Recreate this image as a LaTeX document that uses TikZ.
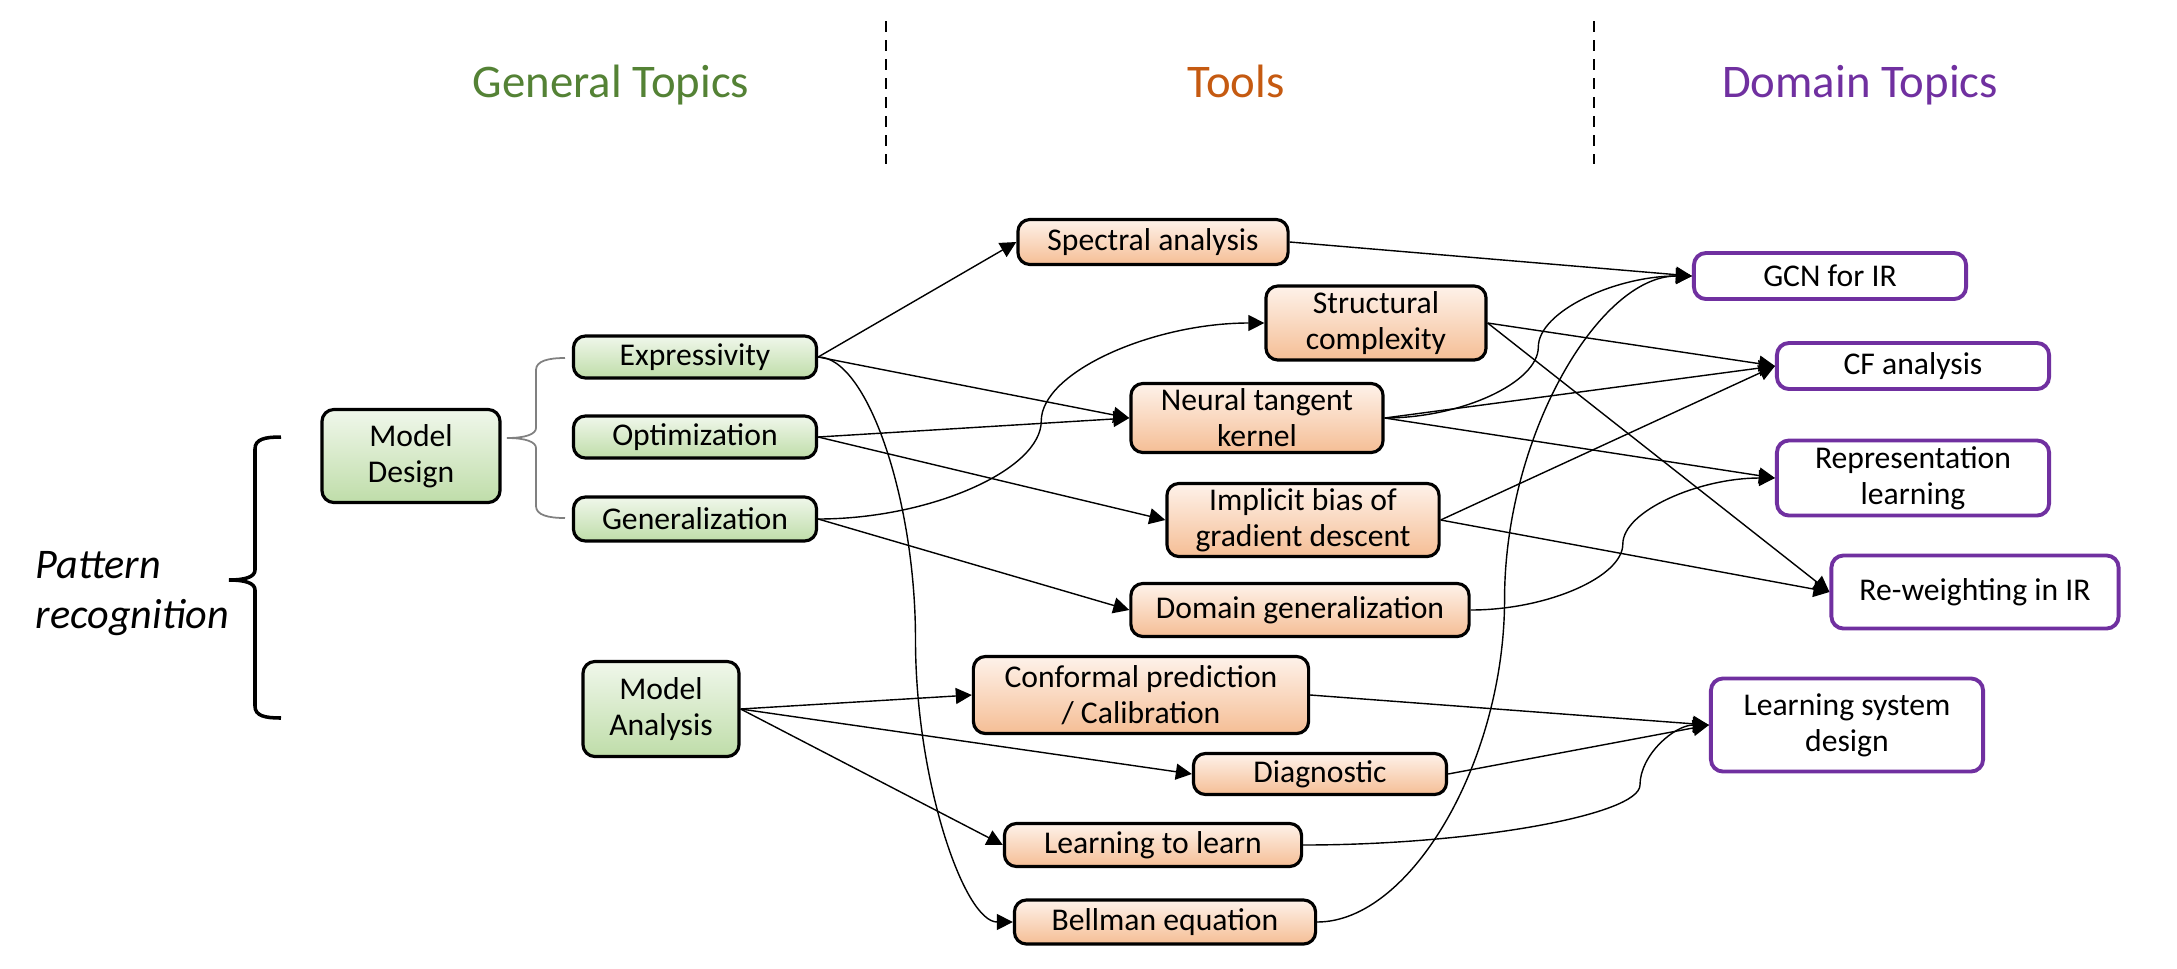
\documentclass[tikz,border=0pt]{standalone}
\usepackage{fontspec}
\setmainfont{Carlito}
\usetikzlibrary{arrows.meta,calc}

\definecolor{hdgreen}{HTML}{548235}
\definecolor{hdorange}{HTML}{C55A11}
\definecolor{hdpurple}{HTML}{7030A0}
\definecolor{grtop}{HTML}{F0F7EB}
\definecolor{grbot}{HTML}{BFDDA9}
\definecolor{ortop}{HTML}{FEF2EA}
\definecolor{orbot}{HTML}{F5BE95}
\newcommand{\boxfont}{\fontsize{9}{10.2}\selectfont}
\newcommand{\headfont}{\fontsize{13.3}{16}\selectfont}

% curved connector: out and in horizontal, vertical at fraction #1
\tikzset{ppt/.style={to path={
    let \p1=(\tikztostart), \p2=(\tikztotarget),
        \n1={\x1+#1*(\x2-\x1)}, \n2={(\y1+\y2)/2},
        \n3={(\x1+\n1)/2}, \n4={\y1+(\y2-\y1)/4},
        \n5={\y1+3*(\y2-\y1)/4}, \n6={(\n1+\x2)/2}
    in .. controls (\n3,\y1) and (\n1,\n4) .. (\n1,\n2)
       .. controls (\n1,\n5) and (\n6,\y2) .. (\tikztotarget) \tikztonodes}},
  ppt/.default=0.5}

\begin{document}
\begin{tikzpicture}[x=0.01cm,y=-0.01cm]
		\tikzstyle{every node}+=[inner sep=0pt]
		\tikzstyle{gbox}=[draw=black, line width=0.9pt, rounded corners=0.12cm, top color=grtop, bottom color=grbot, align=center, font=\boxfont]
		\tikzstyle{obox}=[gbox, top color=ortop, bottom color=orbot]
		\tikzstyle{pbox}=[draw=hdpurple, line width=1.1pt, rounded corners=0.12cm, fill=white, align=center, font=\boxfont]
		\tikzstyle{link}=[line width=0.4pt, -{Triangle[length=0.16cm,width=0.16cm]}]
		\useasboundingbox (0,0) rectangle (2177,969);
		% headers
		\node [font=\headfont, text=hdgreen, anchor=base] (hdgen) at (611,97) {General Topics};
		\node [font=\headfont, text=hdorange, anchor=base] (hdtool) at (1236,97) {Tools};
		\node [font=\headfont, text=hdpurple, anchor=base] (hddom) at (1860,97) {Domain Topics};
		\draw [line width=0.8pt, dash pattern=on 0.11cm off 0.08cm] (886,21) -- (886,164);
		\draw [line width=0.8pt, dash pattern=on 0.11cm off 0.08cm] (1594,21) -- (1594,164);
		% left
		\node [font=\fontsize{12}{14.2}\selectfont\itshape, align=left, anchor=west] (patt) at (35,594) {Pattern\\recognition};
		\draw [line width=1pt] (281,437) .. controls (265,437) and (255,439) .. (255,449) -- (255,570)
			.. controls (255,577) and (245,580) .. (229,580) .. controls (245,580) and (255,583) .. (255,590)
			-- (255,706) .. controls (255,716) and (265,718) .. (281,718);
		% general topics
		\node [gbox, minimum width=1.78cm, minimum height=0.93cm] (mdes) at (411,456) {Model\\Design};
		\node [gbox, minimum width=2.43cm, minimum height=0.42cm] (expr) at (695,357) {Expressivity};
		\node [gbox, minimum width=2.43cm, minimum height=0.42cm] (opt) at (695,437) {Optimization};
		\node [gbox, minimum width=2.43cm, minimum height=0.44cm] (gen) at (695,519) {Generalization};
		\node [gbox, minimum width=1.56cm, minimum height=0.95cm] (anal) at (661,709) {Model\\Analysis};
		\draw [line width=0.5pt, gray] (565,358) .. controls (548,358) and (536,361) .. (536,370) -- (536,428)
			.. controls (536,434) and (526,438) .. (507,438) .. controls (526,438) and (536,442) .. (536,448)
			-- (536,506) .. controls (536,515) and (548,518) .. (565,518);
		% tools
		\node [obox, minimum width=2.70cm, minimum height=0.45cm] (spec) at (1153,242) {Spectral analysis};
		\node [obox, minimum width=2.20cm, minimum height=0.74cm] (struc) at (1376,323) {Structural\\complexity};
		\node [obox, minimum width=2.52cm, minimum height=0.69cm] (ntk) at (1257,418) {Neural tangent\\kernel};
		\node [obox, minimum width=2.72cm, minimum height=0.73cm] (impl) at (1303,520) {Implicit bias of\\gradient descent};
		\node [obox, minimum width=3.38cm, minimum height=0.53cm] (domg) at (1300,610) {Domain generalization};
		\node [obox, minimum width=3.35cm, minimum height=0.77cm] (conf) at (1141,695) {Conformal prediction\\/ Calibration};
		\node [obox, minimum width=2.53cm, minimum height=0.41cm] (diag) at (1320,774) {Diagnostic};
		\node [obox, minimum width=2.97cm, minimum height=0.43cm] (ltl) at (1153,845) {Learning to learn};
		\node [obox, minimum width=3.01cm, minimum height=0.44cm] (bell) at (1165,922) {Bellman equation};
		% domain topics
		\node [pbox, minimum width=2.72cm, minimum height=0.46cm] (gcn) at (1830,276) {GCN for IR};
		\node [pbox, minimum width=2.72cm, minimum height=0.46cm] (cf) at (1913,366) {CF analysis};
		\node [pbox, minimum width=2.72cm, minimum height=0.75cm] (rep) at (1913,478) {Representation\\learning};
		\node [pbox, minimum width=2.87cm, minimum height=0.73cm] (rew) at (1975,592) {Re-weighting in IR};
		\node [pbox, minimum width=2.72cm, minimum height=0.93cm] (lsd) at (1847,725) {Learning system\\design};
		% links
		\draw [link] (expr.east) -- (spec.west);
		\draw [link] (expr.east) -- (ntk.west);
		\draw [link] (expr.east) to[ppt] (bell.west);
		\draw [link] (opt.east) -- (ntk.west);
		\draw [link] (opt.east) -- (impl.west);
		\draw [link] (gen.east) to[ppt] (struc.west);
		\draw [link] (gen.east) -- (domg.west);
		\draw [link] (anal.east) -- (conf.west);
		\draw [link] (anal.east) -- (diag.west);
		\draw [link] (anal.east) -- (ltl.west);
		\draw [link] (spec.east) -- (gcn.west);
		\draw [link] (struc.east) -- (cf.west);
		\draw [link] (struc.east) -- (rew.west);
		\draw [link] (ntk.east) to[ppt] (gcn.west);
		\draw [link] (ntk.east) -- (cf.west);
		\draw [link] (ntk.east) -- (rep.west);
		\draw [link] (impl.east) -- (cf.west);
		\draw [link] (impl.east) -- (rew.west);
		\draw [link] (domg.east) to[ppt] (rep.west);
		\draw [link] (bell.east) to[ppt] (gcn.west);
		\draw [link] (conf.east) -- (lsd.west);
		\draw [link] (diag.east) -- (lsd.west);
		\draw [link] (ltl.east) to[ppt=0.83] (lsd.west);
	\end{tikzpicture}
\end{document}
